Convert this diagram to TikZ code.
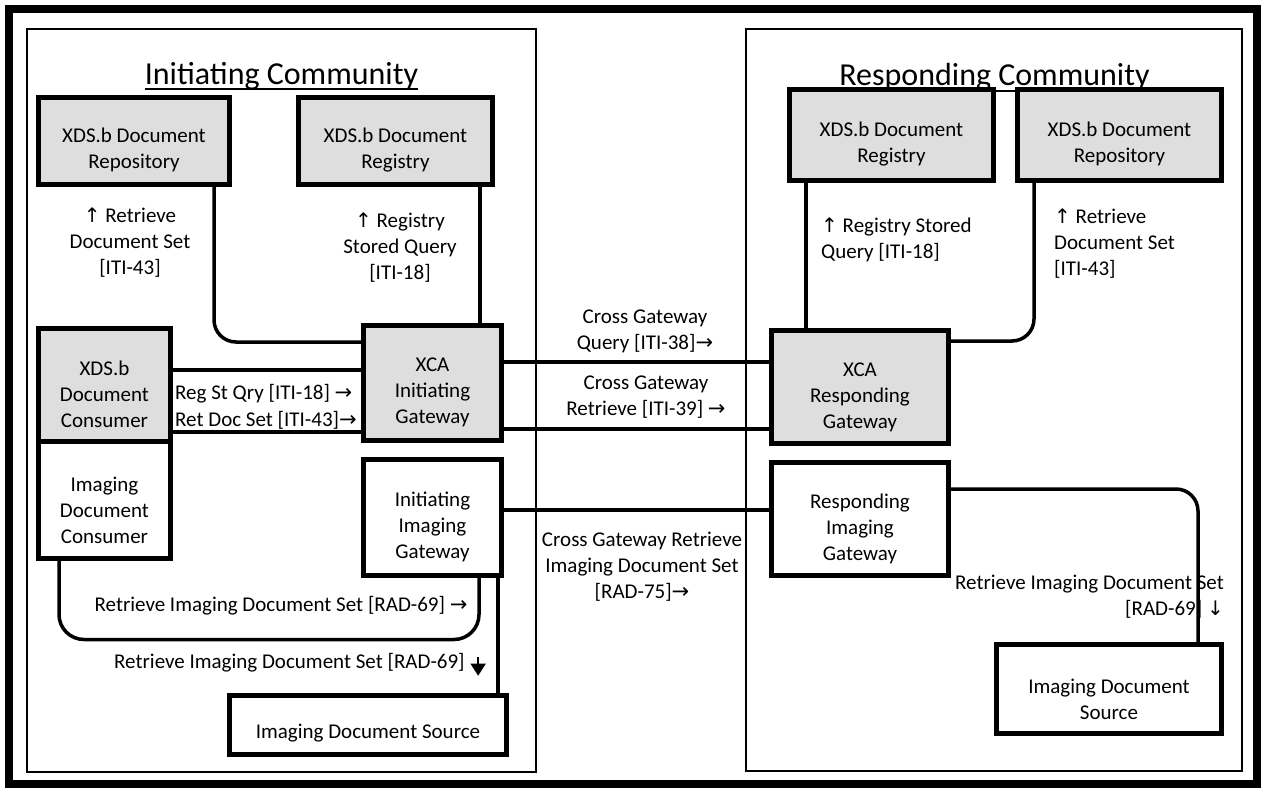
\documentclass[tikz,border=0pt]{standalone}
\usepackage{fontspec}
\setmainfont{Carlito}
\newfontfamily\arr{DejaVu Sans}
\usetikzlibrary{arrows.meta}
\definecolor{boxgray}{RGB}{222,222,222}
\newcommand{\rarr}{{\arr\fontsize{21}{21}\selectfont →}}
\newcommand{\uarr}{{\arr\fontsize{20}{20}\selectfont ↑}}
\newcommand{\darr}{{\arr\fontsize{20}{20}\selectfont ↓}}
\newcommand{\bdarr}{\tikz[baseline=0pt]\draw[line width=1.5pt,-{Triangle[length=12pt,width=15pt]}] (0pt,12pt) -- (0pt,-7pt);}
\begin{document}
\begin{tikzpicture}[x=1pt,y=-1pt,
  box/.style={draw=black, line width=5pt, inner sep=0pt, fill=white},
  gbox/.style={box, fill=boxgray},
  conn/.style={draw=black, line width=3.5pt},
  frame/.style={draw=black, line width=1.5pt},
  txt/.style={align=center, inner sep=0pt, font=\fontsize{21}{26}\selectfont},
  lbl/.style={align=center, inner sep=0pt, font=\fontsize{21}{26}\selectfont},
  ttl/.style={inner sep=0pt, font=\fontsize{32}{38}\selectfont}]
\useasboundingbox (0,0) rectangle (1262,789);
% outer and community frames
\draw[line width=7.5pt] (8.75,9) rectangle (1257,784);
\draw[frame] (27,29) rectangle (536,772);
\draw[frame] (746,29) rectangle (1242,771);
% titles
\node[ttl, anchor=base] (titleL) at (281.5,85) {Initiating Community};
\draw[line width=1.5pt] ([yshift=-4pt]titleL.base west) -- ([yshift=-4pt]titleL.base east);
\node[ttl, anchor=base] (titleR) at (994.5,86) {Responding Community};
\draw[line width=1.5pt] ([yshift=-5pt]titleR.base west) -- ([yshift=-5pt]titleR.base east);
% labels
\node[lbl] (L1) at (130,243) {\uarr\ Retrieve\\Document Set\\{[}ITI-43]};
\node[lbl] (L2) at (400,248) {\uarr\ Registry\\Stored Query\\{[}ITI-18]};
\node[lbl, anchor=west] (L3) at (175,394) {Reg St Qry [ITI-18] \rarr};
\node[lbl, anchor=west] (L4) at (175,420) {Ret Doc Set [ITI-43]\rarr};
\node[lbl] (L5) at (281,606) {Retrieve Imaging Document Set [RAD-69] \rarr};
\node[lbl, anchor=west] (L6) at (114,665) {Retrieve Imaging Document Set [RAD-69]\hspace{6pt}\bdarr};
\node[lbl] (C1) at (645,331.5) {Cross Gateway\\Query [ITI-38]\rarr};
\node[lbl] (C2) at (646,397.5) {Cross Gateway\\Retrieve [ITI-39] \rarr};
\node[lbl] (C3) at (642,566.5) {Cross Gateway Retrieve\\Imaging Document Set\\{[}RAD-75]\rarr};
\node[lbl, align=left, anchor=west] (R1) at (821,240) {\uarr\ Registry Stored\\Query [ITI-18]};
\node[lbl, align=left, anchor=west] (R2) at (1054,244) {\uarr\ Retrieve\\Document Set\\{[}ITI-43]};
\node[lbl, align=right, anchor=east] (R3) at (1224,597) {Retrieve Imaging Document Set\\{[}RAD-69] \darr};
% boxes
\node[gbox, minimum width=191pt, minimum height=87pt] (repL) at (134,141) {};
\node[gbox, minimum width=194pt, minimum height=87pt] (regL) at (395.5,141) {};
\node[gbox, minimum width=138pt, minimum height=115pt] (xcaI) at (432.5,383) {};
\node[gbox, minimum width=132pt, minimum height=113pt] (cons) at (104.5,385) {};
\node[box, minimum width=132pt, minimum height=117pt] (idc) at (104.5,500) {};
\node[box, minimum width=138pt, minimum height=116pt] (iig) at (432.5,517.5) {};
\node[box, minimum width=277pt, minimum height=59pt] (idsL) at (368,725) {};
\node[gbox, minimum width=204pt, minimum height=91pt] (regR) at (891.5,135) {};
\node[gbox, minimum width=204pt, minimum height=91pt] (repR) at (1119.5,135) {};
\node[gbox, minimum width=177pt, minimum height=113pt] (xcaR) at (860,387) {};
\node[box, minimum width=177pt, minimum height=113pt] (rig) at (860,519) {};
\node[box, minimum width=225pt, minimum height=89pt] (idsR) at (1109,689) {};
% connectors
\coordinate (c1) at ([xshift=80pt]repL.south);
\draw[conn, rounded corners=22pt] (c1) |- ([yshift=41pt]xcaI.west);
\coordinate (c2) at ([xshift=84.5pt]regL.south);
\draw[conn] (c2) -- (c2 |- xcaI.north);
\coordinate (c3) at ([yshift=15pt]cons.east);
\draw[conn] (c3) -- (c3 -| xcaI.west);
\coordinate (c4) at ([yshift=-47pt]cons.east);
\draw[conn] (c4) -- (c4 -| xcaI.west);
\coordinate (c5) at ([yshift=21pt]xcaI.east);
\draw[conn] (c5) -- (c5 -| xcaR.west);
\coordinate (c6) at ([yshift=-46pt]xcaI.east);
\draw[conn] (c6) -- (c6 -| xcaR.west);
\draw[conn, rounded corners=22pt] ([yshift=46pt]xcaR.east) -| ([xshift=-85.5pt]repR.south);
\coordinate (c7) at ([xshift=-85.5pt]regR.south);
\draw[conn] (c7) -- (c7 |- xcaR.north);
\coordinate (c8) at ([yshift=7.5pt]iig.east);
\draw[conn] (c8) -- (c8 -| rig.west);
\draw[conn, rounded corners=22pt] ([yshift=30pt]rig.east) -| ([xshift=89pt]idsR.north);
\coordinate (c9) at ([xshift=-45.5pt]idc.south);
\coordinate (c10) at ([xshift=46.5pt]iig.south);
\draw[conn, rounded corners=25pt] (c9) -- ++(0,78.5) -| (c10);
\coordinate (c11) at ([xshift=65.5pt]iig.south);
\draw[conn] (c11) -- (c11 |- idsL.north);
% box texts
\node[txt] (t1) at ([yshift=-9pt]repL.center) {XDS.b Document\\Repository};
\node[txt] (t2) at ([yshift=-9pt]regL.center) {XDS.b Document\\Registry};
\node[txt] (t3) at ([yshift=-9pt]xcaI.center) {XCA\\Initiating\\Gateway};
\node[txt] (t4) at ([yshift=-9pt]cons.center) {XDS.b\\Document\\Consumer};
\node[txt] (t5) at ([yshift=-10pt]idc.center) {Imaging\\Document\\Consumer};
\node[txt] (t6) at ([yshift=-9pt]iig.center) {Initiating\\Imaging\\Gateway};
\node[txt] (t7) at ([yshift=-8pt]idsL.center) {Imaging Document Source};
\node[txt] (t8) at ([yshift=-9pt]regR.center) {XDS.b Document\\Registry};
\node[txt] (t9) at ([yshift=-9pt]repR.center) {XDS.b Document\\Repository};
\node[txt] (t10) at ([yshift=-10pt]xcaR.center) {XCA\\Responding\\Gateway};
\node[txt] (t11) at ([yshift=-10pt]rig.center) {Responding\\Imaging\\Gateway};
\node[txt] (t12) at ([yshift=-10pt]idsR.center) {Imaging Document\\Source};
\end{tikzpicture}
\end{document}
